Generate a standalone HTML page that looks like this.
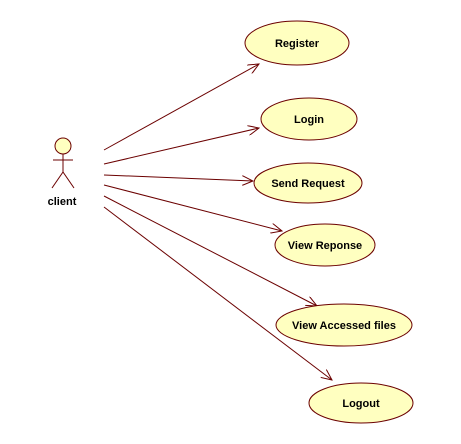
<!DOCTYPE html>
<html><head><style>body{margin:0;background:#fff}svg{display:block}</style></head><body>
<svg width="461" height="444" viewBox="0 0 461 444" xmlns="http://www.w3.org/2000/svg" font-family="Liberation Sans, sans-serif" font-weight="bold" font-size="11">
<defs><marker id="a" markerWidth="12" markerHeight="10" refX="11" refY="5" orient="auto" markerUnits="userSpaceOnUse"><path d="M0,0 L11,5 L0,10" fill="none" stroke="#6b0000" stroke-width="1"/></marker></defs>
<g stroke="#6b0000" stroke-width="1" fill="none">
<circle cx="63" cy="146" r="8" fill="#ffffc0"/>
<line x1="63" y1="154" x2="63" y2="172"/>
<line x1="53" y1="160" x2="73" y2="160"/>
<line x1="63" y1="172" x2="52" y2="188"/>
<line x1="63" y1="172" x2="74" y2="188"/>
<line x1="104" y1="150" x2="259" y2="64" marker-end="url(#a)"/>
<line x1="104" y1="164" x2="259" y2="128" marker-end="url(#a)"/>
<line x1="104" y1="175" x2="253" y2="181" marker-end="url(#a)"/>
<line x1="104" y1="185" x2="282" y2="231" marker-end="url(#a)"/>
<line x1="104" y1="196" x2="317" y2="306" marker-end="url(#a)"/>
<line x1="104" y1="207" x2="332" y2="380" marker-end="url(#a)"/>
</g>
<g fill="#ffffc0" stroke="#6b0000" stroke-width="1">
<ellipse cx="297" cy="43" rx="52" ry="22"/>
<ellipse cx="309" cy="119" rx="48" ry="21"/>
<ellipse cx="308" cy="183" rx="54" ry="20"/>
<ellipse cx="325" cy="245" rx="50" ry="21"/>
<ellipse cx="344" cy="325" rx="68" ry="21"/>
<ellipse cx="361" cy="403" rx="52" ry="20"/>
</g>
<g fill="#000" text-anchor="middle">
<text x="62" y="205">client</text>
<text x="297" y="47">Register</text>
<text x="309" y="123">Login</text>
<text x="308" y="187">Send Request</text>
<text x="325" y="249">View Reponse</text>
<text x="344" y="329">View Accessed files</text>
<text x="361" y="407">Logout</text>
</g>
</svg>
</body></html>
